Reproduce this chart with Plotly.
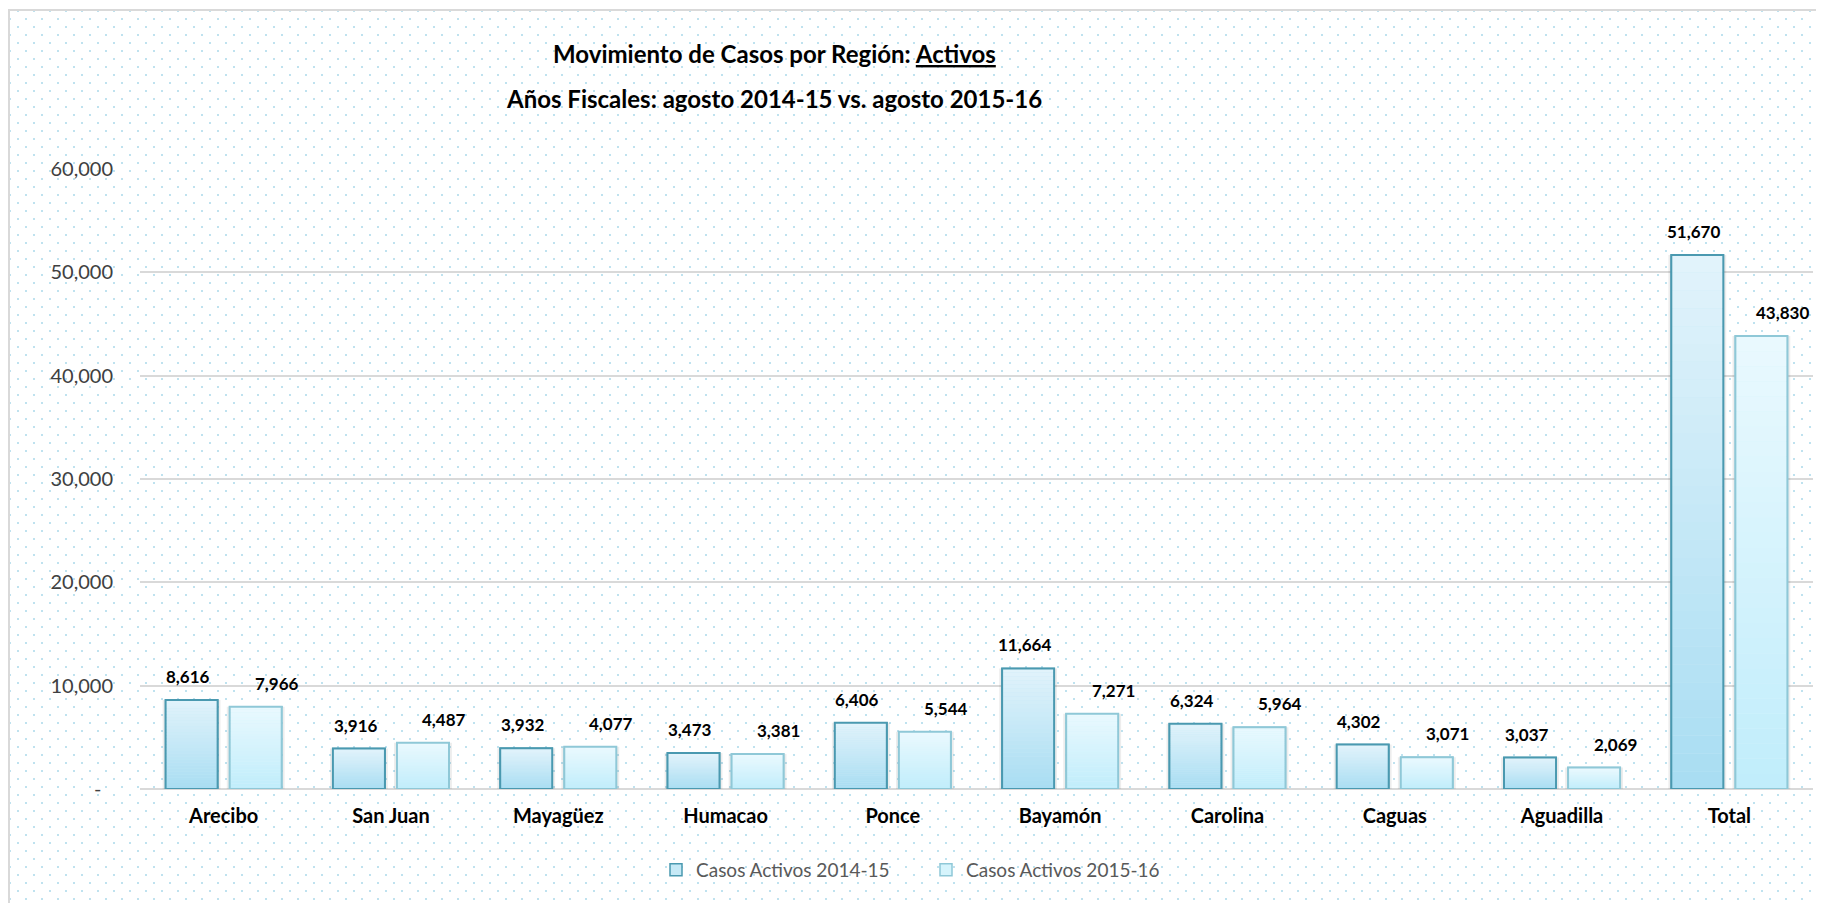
import base64
import plotly.graph_objects as go

# ---------------- data ----------------
regions = ["Arecibo", "San Juan", "Mayagüez", "Humacao", "Ponce",
           "Bayamón", "Carolina", "Caguas", "Aguadilla", "Total"]
casos_2014_15 = [8616, 3916, 3932, 3473, 6406, 11664, 6324, 4302, 3037, 51670]
casos_2015_16 = [7966, 4487, 4077, 3381, 5544, 7271, 5964, 3071, 2069, 43830]
series_names = ["Casos Activos 2014-15", "Casos Activos 2015-16"]
y_ticks = [0, 10000, 20000, 30000, 40000, 50000, 60000]

# ---------------- styles ----------------
FONT = "Lato, 'Open Sans', 'DejaVu Sans', sans-serif"
W, H = 1824, 903
OFF = 8  # page body margin
ML, MT = 140 - OFF, 169 - OFF
MR, MB = W - (1813 - OFF), H - (789 - OFF)
PW, PH = W - ML - MR, H - MT - MB

BAR_W = 0.311
OFFSETS = [-0.347, 0.036]
TOP_COL = [(0xE2, 0xF3, 0xFB), (0xEA, 0xF9, 0xFE)]
BOT_COL = [(0xA8, 0xDD, 0xF2), (0xC0, 0xED, 0xFB)]
MID_COL = ["#c6e9f6", "#d6f4fc"]
EDGE_COL = ["#4a99b0", "#8fc8d7"]
LABEL_SHIFT = [-0.02, 0.125]
N_SLICES = 30


def px_x(sx):
    """screen x (px) -> paper coordinate"""
    return (sx - OFF - ML) / PW


def px_y(sy):
    """screen y (px) -> paper coordinate"""
    return (H - MB - (sy - OFF)) / PH


fig = go.Figure()
series = [casos_2014_15, casos_2015_16]

# shadows
for s, vals in enumerate(series):
    fig.add_trace(go.Bar(
        x=regions, y=vals, width=BAR_W + 0.035, offset=OFFSETS[s] - 0.0175,
        marker=dict(color="rgba(0,0,0,0.07)", line=dict(width=0)),
        showlegend=False, hoverinfo="skip"))

# legend / base bars
for s, vals in enumerate(series):
    fig.add_trace(go.Bar(
        x=regions, y=vals, width=BAR_W, offset=OFFSETS[s], name=series_names[s],
        marker=dict(color=MID_COL[s], line=dict(color=EDGE_COL[s], width=1.5)),
        hovertemplate="%{x}: %{y:,}<extra>" + series_names[s] + "</extra>"))


# gradient slices
def mix(a, b, t):
    return "rgb(%d,%d,%d)" % tuple(round(a[i] + (b[i] - a[i]) * t) for i in range(3))


for s, vals in enumerate(series):
    for k in range(N_SLICES):
        t = (k + 0.5) / N_SLICES
        fig.add_trace(go.Bar(
            x=regions, y=[v / N_SLICES for v in vals],
            base=[v * k / N_SLICES for v in vals],
            width=BAR_W, offset=OFFSETS[s],
            marker=dict(color=mix(BOT_COL[s], TOP_COL[s], t), line=dict(width=0)),
            showlegend=False, hoverinfo="skip"))

# outlines
for s, vals in enumerate(series):
    fig.add_trace(go.Bar(
        x=regions, y=vals, width=BAR_W, offset=OFFSETS[s],
        marker=dict(color="rgba(0,0,0,0)", line=dict(color=EDGE_COL[s], width=2)),
        showlegend=False, hoverinfo="skip"))

# data labels
for s, vals in enumerate(series):
    for i, v in enumerate(vals):
        fig.add_annotation(
            x=i + OFFSETS[s] + BAR_W / 2 + LABEL_SHIFT[s], y=v, xref="x", yref="y",
            text="<b>{:,}</b>".format(v), showarrow=False,
            yanchor="bottom", yshift=11,
            font=dict(family=FONT, size=17, color="#000000"))

# title (two lines)
fig.add_annotation(x=px_x(774), y=px_y(54), xref="paper", yref="paper",
                   text="<b>Movimiento de Casos por Región: <u>Activos</u></b>",
                   showarrow=False, xanchor="center", yanchor="middle",
                   font=dict(family=FONT, size=24, color="#000000"))
fig.add_annotation(x=px_x(774), y=px_y(98), xref="paper", yref="paper",
                   text="<b>Años Fiscales: agosto 2014-15 vs. agosto 2015-16</b>",
                   showarrow=False, xanchor="center", yanchor="middle",
                   font=dict(family=FONT, size=24, color="#000000"))

# dotted background
svg = ('<svg xmlns="http://www.w3.org/2000/svg" width="%d" height="%d">'
       '<defs><pattern id="p" width="16" height="16" patternUnits="userSpaceOnUse">'
       '<rect x="9" y="2" width="2" height="2" fill="#bfe2ef"/>'
       '<rect x="1" y="10" width="2" height="2" fill="#bfe2ef"/>'
       '</pattern></defs><rect width="%d" height="%d" fill="url(#p)"/></svg>') % (W, H, W, H)
src = "data:image/svg+xml;base64," + base64.b64encode(svg.encode()).decode()
fig.add_layout_image(dict(source=src, xref="paper", yref="paper",
                          x=-ML / PW, y=1 + MT / PH, sizex=W / PW, sizey=H / PH,
                          xanchor="left", yanchor="top", sizing="stretch", layer="below"))

# chart border
fig.add_shape(type="rect", xref="paper", yref="paper",
              x0=px_x(OFF + 1), x1=px_x(W + 20),
              y0=px_y(H + 20), y1=px_y(10),
              line=dict(color="#d9d9d9", width=2), fillcolor="rgba(0,0,0,0)", layer="above")

fig.update_layout(
    width=W, height=H,
    margin=dict(l=ML, r=MR, t=MT, b=MB),
    barmode="overlay",
    paper_bgcolor="white", plot_bgcolor="rgba(0,0,0,0)",
    font=dict(family=FONT),
    showlegend=True,
    legend=dict(orientation="h", x=px_x(926), y=px_y(870),
                xanchor="center", yanchor="middle", itemwidth=30,
                entrywidth=225, entrywidthmode="pixels",
                font=dict(family=FONT, size=19, color="#595959"),
                bgcolor="rgba(0,0,0,0)", traceorder="normal"),
    xaxis=dict(type="category", categoryorder="array", categoryarray=regions,
               range=[-0.5, 9.5], showgrid=False, showline=False, zeroline=False,
               ticks="", ticklabelstandoff=13,
               tickfont=dict(family=FONT, size=20, color="#000000"),
               tickvals=regions, ticktext=["<b>%s</b>" % r for r in regions]),
    yaxis=dict(range=[0, 60000], tickvals=y_ticks,
               ticktext=["-\u2007" if v == 0 else "{:,}".format(v) for v in y_ticks],
               showgrid=True, gridcolor="#d9d9d9", gridwidth=1.5,
               zeroline=True, zerolinecolor="#d9d9d9", zerolinewidth=2,
               showline=False, ticks="", ticklabelstandoff=26,
               tickfont=dict(family=FONT, size=20, color="#404040")),
)

fig.write_html("out.html")
